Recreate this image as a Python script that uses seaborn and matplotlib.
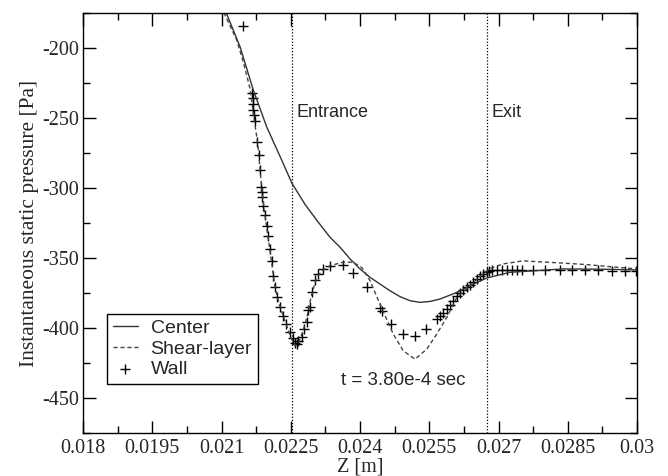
import numpy as np
import pandas as pd
import matplotlib
matplotlib.use("Agg")
import matplotlib.pyplot as plt
import seaborn as sns

# center-line pressure
center_z = [0.02095, 0.021076, 0.021401, 0.021689, 0.021979, 0.022267, 0.022527,
            0.022809, 0.023083, 0.02335, 0.023567, 0.023783, 0.024, 0.024217,
            0.024433, 0.02465, 0.024867, 0.025083, 0.0253, 0.025516, 0.025733,
            0.026095, 0.026454, 0.026744, 0.027249, 0.027827, 0.028397, 0.029199,
            0.030]
center_p = [-162, -172.8, -199.1, -230.1, -256.4, -277.4, -296.7,
            -311.7, -323.9, -335.2, -342.3, -350.6, -357.8, -363.8,
            -368.6, -373.4, -377.6, -380.5, -381.7, -381.0, -379.3,
            -374.6, -368.6, -364.3, -360.2, -359, -357.8, -358,
            -358.5]

# shear-layer pressure
shear_z = [0.02095, 0.021054, 0.021329, 0.021472, 0.021617, 0.021704, 0.021791,
           0.021856, 0.021921, 0.021986, 0.022072, 0.022159, 0.022267, 0.022397,
           0.022505, 0.022592, 0.022679, 0.022765, 0.022852, 0.022939, 0.023047,
           0.023177, 0.02335, 0.023632, 0.023855, 0.024043, 0.024217, 0.024433,
           0.024721, 0.024938, 0.025191, 0.025445, 0.025661, 0.025878, 0.026095,
           0.026383, 0.026599, 0.026816, 0.027104, 0.027537, 0.027827, 0.028332,
           0.02891, 0.029415, 0.030]
shear_p = [-160, -175, -194.3, -210, -229, -250, -270,
           -295, -315, -330, -350, -371, -385, -397,
           -407, -412.5, -410, -402, -392, -378, -365,
           -359, -355.5, -353, -353, -357, -366.2, -383,
           -404.4, -416.3, -422.3, -415.1, -404.4, -392.5, -378.2,
           -369.8, -363, -357.5, -354.2, -352, -352.6, -353.5,
           -354.7, -356.2, -357.8]

# wall pressure (discrete samples)
wall_z = [0.021459, 0.021667, 0.021672, 0.021682, 0.021689, 0.021697, 0.021715,
          0.021776, 0.021819, 0.021834, 0.021856, 0.021871, 0.021875, 0.021906,
          0.021942, 0.021979, 0.022014, 0.022051, 0.022087, 0.022122, 0.022159,
          0.022209, 0.022267, 0.022326, 0.022397, 0.022484, 0.022555, 0.022581,
          0.022629, 0.022657, 0.022737, 0.022787, 0.022845, 0.02288, 0.022917,
          0.022954, 0.023025, 0.023097, 0.023205, 0.02335, 0.023638, 0.023855,
          0.024145, 0.024433, 0.02447, 0.024665, 0.024938, 0.025191, 0.02543,
          0.025674, 0.025733, 0.025798, 0.025878, 0.025949, 0.026014, 0.026095,
          0.026166, 0.026231, 0.026311, 0.026383, 0.026448, 0.026528, 0.026599,
          0.026664, 0.026744, 0.026794, 0.026853, 0.026961, 0.027069, 0.027178,
          0.027286, 0.027394, 0.027502, 0.027754, 0.028007, 0.028332, 0.028585,
          0.028874, 0.029162, 0.029452, 0.02974, 0.029972]
wall_p = [-184, -232, -236, -240, -244, -248, -252,
          -267, -276.6, -287.4, -299.4, -303, -306.5, -312.5,
          -319.6, -326.8, -334, -343.5, -351.9, -362.6, -371,
          -378.2, -385.3, -391.3, -397.2, -403.2, -406.8, -410.5,
          -411.5, -409.5, -406.3, -401, -395.6, -387.2, -385,
          -374, -366, -361.4, -357.8, -355.4, -354.9, -360.9,
          -371, -385.7, -388.2, -397.2, -404.4, -405.6, -400.8,
          -393.6, -391.5, -389, -386.5, -383.5, -381, -376.9,
          -375, -373, -371, -369, -367, -365, -363,
          -361.5, -360.2, -359, -358.5, -358.5, -358.5, -358.5,
          -358.5, -358.5, -358.5, -358.5, -358.7, -358.7, -358.8,
          -358.8, -358.9, -359, -359, -359.2]

entrance_z = 0.02252
exit_z = 0.02675
x_ticks = [0.018, 0.0195, 0.021, 0.0225, 0.024, 0.0255, 0.027, 0.0285, 0.03]
x_labels = ["0.018", "0.0195", "0.021", "0.0225", "0.024", "0.0255", "0.027", "0.0285", "0.03"]
y_ticks = [-450, -400, -350, -300, -250, -200]


def main():
    sns.set_style("ticks")
    plt.rcParams["font.family"] = ["Liberation Serif", "DejaVu Serif"]
    plt.rcParams["axes.unicode_minus"] = False

    fig = plt.figure(figsize=(6.68, 4.76), dpi=100)
    ax = fig.add_axes([0.1243, 0.0903, 0.8293, 0.8824])

    ax.axvline(entrance_z, color="black", lw=0.9, ls=(0, (1, 1.5)))
    ax.axvline(exit_z, color="black", lw=0.9, ls=(0, (1, 1.5)))

    center = pd.DataFrame({"z": center_z, "p": center_p})
    shear = pd.DataFrame({"z": shear_z, "p": shear_p})
    wall = pd.DataFrame({"z": wall_z, "p": wall_p})

    sns.lineplot(data=center, x="z", y="p", ax=ax, sort=False, estimator=None,
                 color="#333333", lw=1.0, label="Center")
    sns.lineplot(data=shear, x="z", y="p", ax=ax, sort=False, estimator=None,
                 color="#444444", lw=1.0, label="Shear-layer")
    ax.lines[-1].set_linestyle((0, (3, 2)))
    sns.scatterplot(data=wall, x="z", y="p", ax=ax, marker="+", s=55,
                    color="black", linewidth=1.0, label="Wall")

    ax.set_xlim(0.018, 0.03)
    ax.set_ylim(-475, -175)
    ax.set_xticks(x_ticks)
    ax.set_xticklabels(x_labels)
    ax.set_xticks(np.arange(0.01875, 0.03, 0.0015), minor=True)
    ax.set_yticks(y_ticks)
    ax.set_yticks(np.arange(-475, -174, 25), minor=True)
    ax.tick_params(which="both", direction="in", top=True, right=True,
                   labelsize=14.5, color="black")
    ax.tick_params(which="major", length=9, width=1.0)
    ax.tick_params(which="minor", length=5, width=1.0)
    ax.tick_params(axis="x", pad=4)
    ax.tick_params(axis="y", pad=3)
    for s in ax.spines.values():
        s.set_color("black")
        s.set_linewidth(1.0)

    ax.set_xlabel("Z [m]", fontsize=14.5, labelpad=0)
    ax.set_ylabel("Instantaneous static pressure [Pa]", fontsize=15.5, labelpad=2)

    sans = ["Liberation Sans", "DejaVu Sans"]
    ax.text(entrance_z + 0.0001, -246, "Entrance", family=sans, fontsize=13, va="center")
    ax.text(exit_z + 0.0001, -246, "Exit", family=sans, fontsize=13, va="center")
    ax.text(0.02358, -437.5, "t = 3.80e-4 sec", family=sans, fontsize=13.5, va="center")

    leg = ax.legend(loc="lower left", bbox_to_anchor=(0.043, 0.117), borderaxespad=0,
                    fancybox=False, framealpha=1, edgecolor="black",
                    prop={"family": sans, "size": 14}, handlelength=1.3,
                    handletextpad=0.65, borderpad=0.3, labelspacing=0.15)
    leg.get_frame().set_linewidth(1.0)

    fig.savefig("out.png", dpi=100)


if __name__ == "__main__":
    main()
